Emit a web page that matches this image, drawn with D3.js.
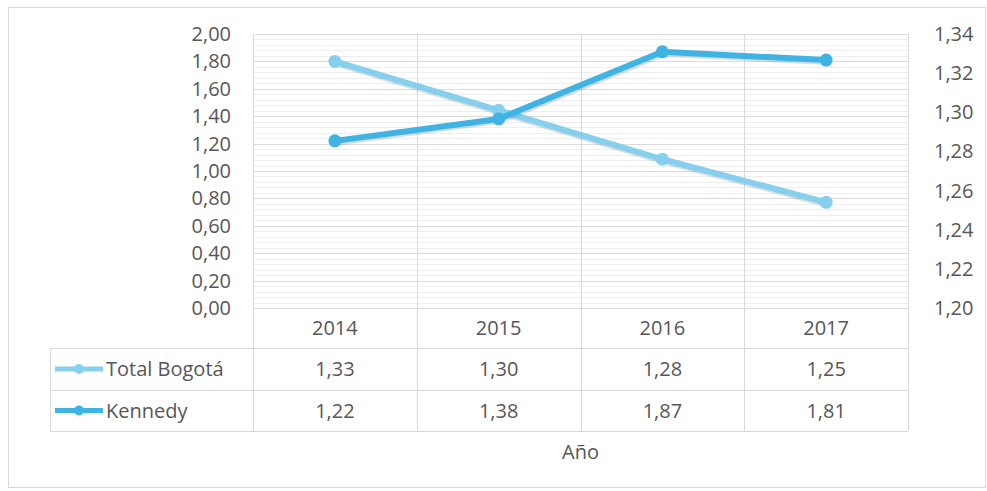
<!DOCTYPE html>
<html>
<head>
<meta charset="utf-8">
<script src="https://cdn.jsdelivr.net/npm/d3@7"></script>
<style>
  body { margin: 0; background: #fff; }
  text { font-family: "Open Sans", Lato, sans-serif; fill: #575757; }
</style>
</head>
<body>
<div id="chart"></div>
<script>
var years = ["2014", "2015", "2016", "2017"];
var bogota = [1.326, 1.301, 1.276, 1.254];   // right axis
var kennedy = [1.22, 1.38, 1.87, 1.81];      // left axis
var leftTicks = [0, 0.2, 0.4, 0.6, 0.8, 1.0, 1.2, 1.4, 1.6, 1.8, 2.0];
var rightTicks = [1.20, 1.22, 1.24, 1.26, 1.28, 1.30, 1.32, 1.34];
var seriesNames = ["Total Bogotá", "Kennedy"];
var axisTitle = "Año";

var W = 987, H = 491;
var plot = {left: 253, right: 908, top: 34, bottom: 308};
var rowH = [40, 42, 41];
var tableLeft = 50;
var colors = ["#86d0ee", "#3fb4e4"];
var fs = "20px";
var fmt = function(v) { return d3.format(".2f")(v).replace(".", ","); };

var svg = d3.select("#chart").append("svg")
  .attr("width", W).attr("height", H);

svg.append("rect")
  .attr("x", 8.5).attr("y", 7.5).attr("width", 977).attr("height", 480)
  .attr("fill", "#fff").attr("stroke", "#d9d9d9");

var x = d3.scaleBand().domain(years).range([plot.left, plot.right]);
var yL = d3.scaleLinear().domain([0, 2]).range([plot.bottom, plot.top]);
var yR = d3.scaleLinear().domain([1.2, 1.34]).range([plot.bottom, plot.top]);

// minor gridlines
var minor = d3.range(0, 2.0001, 0.04);
svg.append("g").selectAll("line").data(minor).enter().append("line")
  .attr("x1", plot.left).attr("x2", plot.right)
  .attr("y1", function(d) { return Math.round(yL(d)) + 0.5; })
  .attr("y2", function(d) { return Math.round(yL(d)) + 0.5; })
  .attr("stroke", "#eeeeee");
// major gridlines
svg.append("g").selectAll("line").data(leftTicks).enter().append("line")
  .attr("x1", plot.left).attr("x2", plot.right)
  .attr("y1", function(d) { return Math.round(yL(d)) + 0.5; })
  .attr("y2", function(d) { return Math.round(yL(d)) + 0.5; })
  .attr("stroke", "#dcdcdc");

var tableBottom = plot.bottom + d3.sum(rowH);
var rowY = [plot.bottom, plot.bottom + rowH[0], plot.bottom + rowH[0] + rowH[1], tableBottom];

// vertical lines through plot and table
var bounds = years.map(function(d) { return x(d); }).concat([plot.right]);
svg.append("g").selectAll("line").data(bounds).enter().append("line")
  .attr("x1", function(d) { return Math.round(d) + 0.5; })
  .attr("x2", function(d) { return Math.round(d) + 0.5; })
  .attr("y1", plot.top).attr("y2", tableBottom)
  .attr("stroke", "#d9d9d9");
// table horizontal lines
svg.append("g").selectAll("line").data(rowY.slice(1)).enter().append("line")
  .attr("x1", tableLeft).attr("x2", plot.right)
  .attr("y1", function(d) { return d + 0.5; }).attr("y2", function(d) { return d + 0.5; })
  .attr("stroke", "#d9d9d9");
svg.append("line")
  .attr("x1", tableLeft + 0.5).attr("x2", tableLeft + 0.5)
  .attr("y1", rowY[1]).attr("y2", tableBottom)
  .attr("stroke", "#d9d9d9");

// left axis labels
svg.append("g").selectAll("text").data(leftTicks).enter().append("text")
  .attr("x", 231).attr("y", function(d) { return yL(d); })
  .attr("dy", "0.35em").attr("text-anchor", "end")
  .style("font-size", fs).text(fmt);
// right axis labels
svg.append("g").selectAll("text").data(rightTicks).enter().append("text")
  .attr("x", 934).attr("y", function(d) { return yR(d); })
  .attr("dy", "0.35em").attr("text-anchor", "start")
  .style("font-size", fs).text(fmt);

// lines
var series = [
  {name: seriesNames[0], values: bogota, y: yR, color: colors[0]},
  {name: seriesNames[1], values: kennedy, y: yL, color: colors[1]}
];
var cx = function(i) { return x(years[i]) + x.bandwidth() / 2; };
series.forEach(function(s) {
  var line = d3.line()
    .x(function(d, i) { return cx(i); })
    .y(function(d) { return s.y(d); });
  svg.append("path").datum(s.values)
    .attr("d", line).attr("fill", "none")
    .attr("stroke", "#5a7d8c").attr("stroke-opacity", 0.25)
    .attr("stroke-width", 6).attr("transform", "translate(1,2)");
  svg.append("path").datum(s.values)
    .attr("d", line).attr("fill", "none")
    .attr("stroke", s.color).attr("stroke-width", 6)
    .attr("stroke-linejoin", "round");
  svg.append("g").selectAll("circle").data(s.values).enter().append("circle")
    .attr("cx", function(d, i) { return cx(i); })
    .attr("cy", function(d) { return s.y(d); })
    .attr("r", 6.5).attr("fill", s.color);
});

// table: header years
svg.append("g").selectAll("text").data(years).enter().append("text")
  .attr("x", function(d) { return x(d) + x.bandwidth() / 2; })
  .attr("y", (rowY[0] + rowY[1]) / 2).attr("dy", "0.35em")
  .attr("text-anchor", "middle").style("font-size", fs).text(function(d) { return d; });

series.forEach(function(s, r) {
  var yc = (rowY[r + 1] + rowY[r + 2]) / 2;
  svg.append("line")
    .attr("x1", 55).attr("x2", 103).attr("y1", yc).attr("y2", yc)
    .attr("stroke", s.color).attr("stroke-width", 5);
  svg.append("circle").attr("cx", 79).attr("cy", yc).attr("r", 5).attr("fill", s.color);
  svg.append("text").attr("x", 106).attr("y", yc).attr("dy", "0.35em")
    .style("font-size", fs).text(s.name);
  svg.append("g").selectAll("text").data(s.values).enter().append("text")
    .attr("x", function(d, i) { return cx(i); })
    .attr("y", yc).attr("dy", "0.35em")
    .attr("text-anchor", "middle").style("font-size", fs).text(fmt);
});

svg.append("text")
  .attr("x", (plot.left + plot.right) / 2).attr("y", 452).attr("dy", "0.35em")
  .attr("text-anchor", "middle").style("font-size", fs).text(axisTitle);
</script>
</body>
</html>
